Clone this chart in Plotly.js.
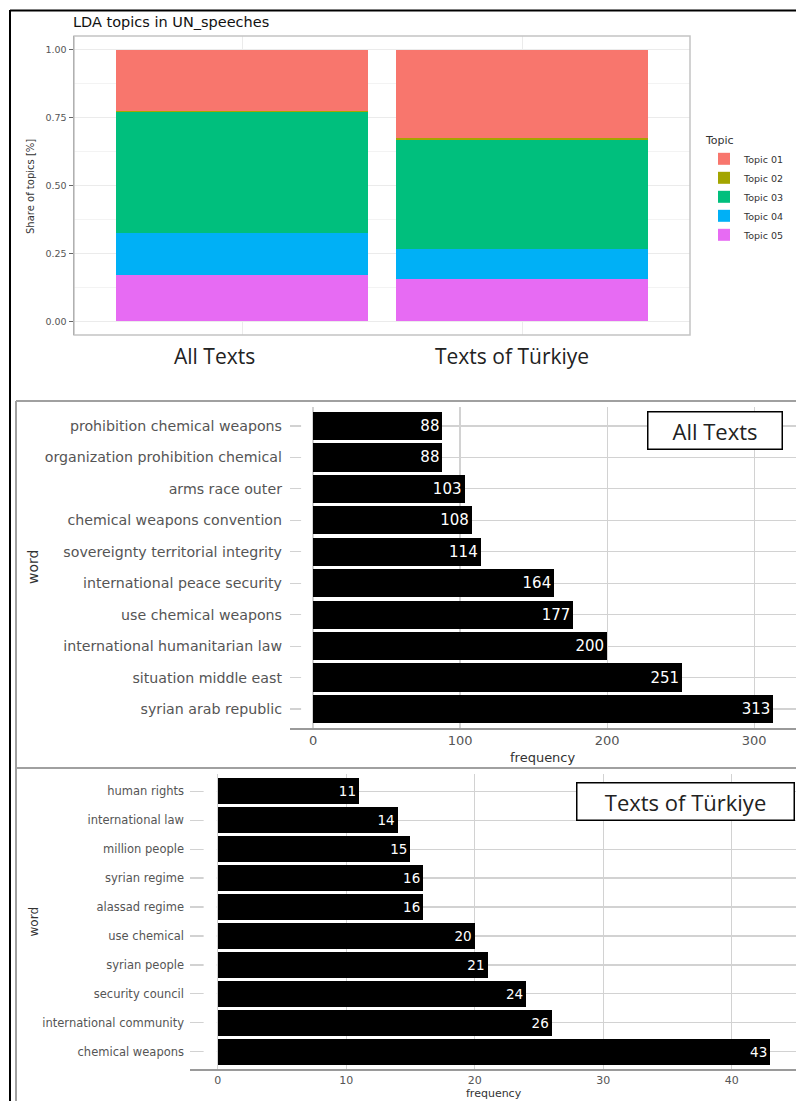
<!DOCTYPE html>
<html>
<head>
<meta charset="utf-8">
<script src="https://cdn.plot.ly/plotly-3.0.1.min.js"></script>
<style>html,body{margin:0;padding:0;background:#fff;}#chart{width:796px;height:1101px;}</style>
</head>
<body>
<div id="chart"></div>
<script>
// ---------- DATA ----------
const groups = ["All Texts", "Texts of Türkiye"];
const topics = ["Topic 01", "Topic 02", "Topic 03", "Topic 04", "Topic 05"];
const topicColors = ["#F8766D", "#A3A500", "#00BF7D", "#00B0F6", "#E76BF3"];
// share of each topic, per group [All Texts, Texts of Türkiye]
const topic01 = [0.226, 0.327];
const topic02 = [0.003, 0.005];
const topic03 = [0.445, 0.400];
const topic04 = [0.155, 0.112];
const topic05 = [0.171, 0.156];
const topicShares = [topic01, topic02, topic03, topic04, topic05];

const allWords = ["prohibition chemical weapons", "organization prohibition chemical", "arms race outer",
  "chemical weapons convention", "sovereignty territorial integrity", "international peace security",
  "use chemical weapons", "international humanitarian law", "situation middle east", "syrian arab republic"];
const allFreq = [88, 88, 103, 108, 114, 164, 177, 200, 251, 313];

const trWords = ["human rights", "international law", "million people", "syrian regime", "alassad regime",
  "use chemical", "syrian people", "security council", "international community", "chemical weapons"];
const trFreq = [11, 14, 15, 16, 16, 20, 21, 24, 26, 43];

const shareTicks = [0, 0.25, 0.5, 0.75, 1];
const shareTickText = ["0.00", "0.25", "0.50", "0.75", "1.00"];
const allTicks = [0, 100, 200, 300];
const trTicks = [0, 10, 20, 30, 40];

// ---------- LAYOUT HELPERS ----------
const W = 796, H = 1101;
const px = x => x / W;
const py = y => 1 - y / H;
const FONT = "DejaVu Sans, Verdana, sans-serif";
const BOXFONT = "Open Sans, Noto Sans, sans-serif";
const GRID = "#d2d2d2";

// ---------- TRACES ----------
const traces = [];
for (let i = topics.length - 1; i >= 0; i--) {
  traces.push({
    type: "bar", x: groups, y: topicShares[i], name: topics[i],
    marker: {color: topicColors[i], line: {width: 0}},
    width: 0.9, xaxis: "x", yaxis: "y", hoverinfo: "x+y+name"
  });
}
traces.push({
  type: "bar", orientation: "h", x: allFreq, y: allWords, width: 0.9,
  marker: {color: "#000"}, text: allFreq.map(String), textposition: "inside",
  insidetextanchor: "end", constraintext: "none",
  textfont: {color: "#fff", size: 15, family: FONT},
  xaxis: "x2", yaxis: "y2", showlegend: false
});
traces.push({
  type: "bar", orientation: "h", x: trFreq, y: trWords, width: 0.9,
  marker: {color: "#000"}, text: trFreq.map(String), textposition: "inside",
  insidetextanchor: "end", constraintext: "none",
  textfont: {color: "#fff", size: 13.5, family: FONT},
  xaxis: "x3", yaxis: "y3", showlegend: false
});

const ann = (text, x, y, size, extra) => Object.assign({
  text, x: px(x), y: py(y), xref: "paper", yref: "paper", showarrow: false,
  xanchor: "center", yanchor: "middle", font: {family: FONT, size, color: "#333"}
}, extra || {});

const layout = {
  width: W, height: H, margin: {l: 0, r: 0, t: 0, b: 0},
  paper_bgcolor: "#fff", plot_bgcolor: "#fff",
  font: {family: FONT},
  barmode: "stack", bargap: 0.1,
  title: {text: "LDA topics in UN_speeches", x: px(73), xanchor: "left", xref: "paper",
          y: py(22), yanchor: "middle", yref: "paper", font: {family: FONT, size: 14.5, color: "#111"}},
  showlegend: true,
  legend: {x: px(704), y: py(130), xanchor: "left", yanchor: "top", traceorder: "reversed",
           title: {text: "Topic", font: {size: 11, color: "#333", family: FONT}},
           font: {size: 9.5, color: "#333", family: FONT}, tracegroupgap: 0, itemwidth: 30,
           bgcolor: "rgba(0,0,0,0)"},
  xaxis: {domain: [px(74), px(690)], anchor: "y", type: "category", range: [-0.6, 1.6],
          showgrid: true, gridcolor: "#ebebeb", showticklabels: false, zeroline: false, fixedrange: true},
  yaxis: {domain: [py(335), py(36)], anchor: "x", range: [-0.05, 1.05],
          tickvals: shareTicks, ticktext: shareTickText, showgrid: true, gridcolor: "#ebebeb",
          minor: {dtick: 0.125, tick0: 0, showgrid: true, gridcolor: "#f3f3f3"},
          ticks: "outside", ticklen: 4, tickcolor: "#666",
          tickfont: {size: 9.5, color: "#555", family: FONT},
          showline: true, linecolor: "#777", linewidth: 1.5, zeroline: false},
  xaxis2: {domain: [px(290), 1], anchor: "y2", range: [-15.65, 328.4], tickvals: allTicks,
           showgrid: true, gridcolor: GRID, gridwidth: 1.3, zeroline: false,
           showline: true, linecolor: "#9a9a9a", linewidth: 1.5,
           tickfont: {size: 13, color: "#555", family: FONT}},
  yaxis2: {domain: [py(728), py(407)], anchor: "x2", type: "category", range: [9.6, -0.6],
           showgrid: true, gridcolor: GRID, gridwidth: 1.3, zeroline: false,
           ticklabelstandoff: 7, tickfont: {size: 14.2, color: "#555", family: FONT}},
  xaxis3: {domain: [px(190), 1], anchor: "y3", range: [-2.15, 45.0], tickvals: trTicks,
           showgrid: true, gridcolor: GRID, gridwidth: 1.3, zeroline: false,
           showline: true, linecolor: "#9a9a9a", linewidth: 1.5,
           tickfont: {size: 11, color: "#555", family: FONT}},
  yaxis3: {domain: [py(1069), py(774)], anchor: "x3", type: "category", range: [9.6, -0.6],
           showgrid: true, gridcolor: GRID, gridwidth: 1.3, zeroline: false,
           ticklabelstandoff: 5, tickfont: {size: 11.5, color: "#555", family: FONT}},
  shapes: [
    // top panel border
    {type: "rect", xref: "x domain", yref: "y domain", x0: 0, x1: 1, y0: 0, y1: 1,
     line: {color: "#c4c4c4", width: 1.5}, fillcolor: "rgba(0,0,0,0)"},
    // gaps between tick area and bars
    {type: "rect", xref: "x2", yref: "y2 domain", x0: -8.1, x1: -0.7, y0: 0.01, y1: 1,
     fillcolor: "#fff", line: {width: 0}, layer: "above"},
    {type: "rect", xref: "x3", yref: "y3 domain", x0: -1.09, x1: -0.07, y0: 0.01, y1: 1,
     fillcolor: "#fff", line: {width: 0}, layer: "above"},
    // outer frame
    {type: "line", xref: "paper", yref: "paper", x0: px(10), x1: px(10), y0: py(10), y1: 0,
     line: {color: "#000", width: 2}},
    {type: "line", xref: "paper", yref: "paper", x0: px(10), x1: 1, y0: py(10.5), y1: py(10.5),
     line: {color: "#000", width: 2}},
    {type: "line", xref: "paper", yref: "paper", x0: px(16), x1: px(16), y0: py(401), y1: 0,
     line: {color: "#a0a0a0", width: 2}},
    {type: "line", xref: "paper", yref: "paper", x0: px(16), x1: 1, y0: py(401), y1: py(401),
     line: {color: "#a0a0a0", width: 2}},
    {type: "line", xref: "paper", yref: "paper", x0: px(16), x1: 1, y0: py(768), y1: py(768),
     line: {color: "#a0a0a0", width: 2}}
  ],
  annotations: [
    ann("Share of topics [%]", 30, 186, 10, {textangle: -90}),
    ann(groups[0], 215, 356, 21, {font: {family: BOXFONT, size: 21, color: "#222"}}),
    ann(groups[1], 512, 356, 21, {font: {family: BOXFONT, size: 21, color: "#222"}}),
    ann("word", 33, 567, 14, {textangle: -90}),
    ann("frequency", 543, 757, 13),
    ann("word", 33, 921.5, 12, {textangle: -90}),
    ann("frequency", 494, 1093, 11),
    ann(groups[0], 714.5, 430, 22, {font: {family: BOXFONT, size: 22, color: "#222"},
        bordercolor: "#000", borderwidth: 1.5, borderpad: 0, width: 133, height: 36, bgcolor: "#fff"}),
    ann(groups[1], 685, 801, 22, {font: {family: BOXFONT, size: 22, color: "#222"},
        bordercolor: "#000", borderwidth: 1.5, borderpad: 0, width: 216, height: 36, bgcolor: "#fff"})
  ]
};

Plotly.newPlot("chart", traces, layout, {displayModeBar: false, staticPlot: true});
</script>
</body>
</html>
